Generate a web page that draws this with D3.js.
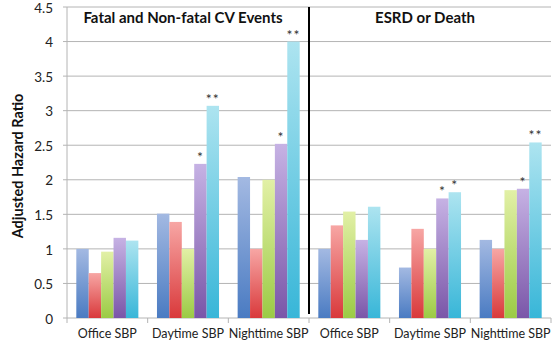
<!DOCTYPE html>
<html>
<head>
<meta charset="utf-8">
<script src="https://cdn.jsdelivr.net/npm/d3@7"></script>
<style>
  body { margin: 0; background: #fff; }
  text { font-family: Lato, "Open Sans", sans-serif; }
</style>
</head>
<body>
<div id="chart"></div>
<script>
// Data
const categories = ["Office SBP", "Daytime SBP", "Nighttime SBP", "Office SBP ", "Daytime SBP ", "Nighttime SBP "];
const seriesNames = ["s1", "s2", "s3", "s4", "s5"];
const values = [
    [1.00, 0.65, 0.96, 1.16, 1.12],
    [1.51, 1.39, 1.00, 2.23, 3.07],
    [2.04, 1.00, 2.00, 2.52, 4.00],
    [1.00, 1.34, 1.54, 1.13, 1.61],
    [0.73, 1.29, 1.00, 1.73, 1.82],
    [1.13, 1.00, 1.85, 1.87, 2.54]
];
const stars = [
    ["", "", "", "", ""],
    ["", "", "", "*", "**"],
    ["", "", "", "*", "**"],
    ["", "", "", "", ""],
    ["", "", "", "*", "*"],
    ["", "", "", "*", "**"]
];
const panelTitles = ["Fatal and Non-fatal CV Events", "ESRD or Death"];
const yTicks = [0, 0.5, 1, 1.5, 2, 2.5, 3, 3.5, 4, 4.5];

// gradient stops: light top, dark bottom
const colors = [
    ["#a3b9e2", "#4a7bc2"],
    ["#f7a6a4", "#d9393b"],
    ["#e2f0a6", "#9bcb45"],
    ["#c6b2e4", "#7a56a8"],
    ["#ade4f0", "#38b6d8"]
];

const margin = { top: 7, right: 2, bottom: 25, left: 67 };
const W = 553, H = 343;
const width = W - margin.left - margin.right;
const height = H - margin.top - margin.bottom;

const root = d3.select("#chart").append("svg")
    .attr("width", W)
    .attr("height", H);

const defs = root.append("defs");
colors.forEach((c, i) => {
    const g = defs.append("linearGradient")
        .attr("id", "grad" + i)
        .attr("x1", 0).attr("y1", 0).attr("x2", 0).attr("y2", 1);
    g.append("stop").attr("offset", "0%").attr("stop-color", c[0]);
    g.append("stop").attr("offset", "100%").attr("stop-color", c[1]);
});

const svg = root.append("g")
    .attr("transform", `translate(${margin.left},${margin.top})`);

// Scales
const x0 = d3.scaleBand().domain(categories).range([0, width]);
const step = x0.step();
const barW = step / 6.5;
const x1 = d3.scaleBand().domain(seriesNames)
    .range([barW * 0.75, step - barW * 0.75]);

const y = d3.scaleLinear().domain([0, 4.5]).range([height, 0]);

// Gridlines
svg.selectAll(".grid")
    .data(yTicks)
    .enter()
    .append("line")
    .attr("x1", -4)
    .attr("x2", width)
    .attr("y1", d => y(d))
    .attr("y2", d => y(d))
    .style("stroke", "#b4b4b4")
    .style("stroke-width", 1);

// Y axis line and labels
svg.append("line")
    .attr("x1", 0).attr("x2", 0)
    .attr("y1", 0).attr("y2", height)
    .style("stroke", "#b4b4b4");

svg.selectAll(".ylab")
    .data(yTicks)
    .enter()
    .append("text")
    .attr("x", -14)
    .attr("y", d => y(d))
    .attr("dy", "0.42em")
    .style("text-anchor", "end")
    .style("font-size", "13.5px")
    .style("fill", "#222")
    .text(d => d);

// Category ticks
svg.selectAll(".xtick")
    .data(d3.range(categories.length + 1))
    .enter()
    .append("line")
    .attr("x1", d => d * step)
    .attr("x2", d => d * step)
    .attr("y1", height)
    .attr("y2", height + 5)
    .style("stroke", "#b4b4b4");

svg.selectAll(".xlab")
    .data(categories)
    .enter()
    .append("text")
    .attr("x", d => x0(d) + step / 2)
    .attr("y", height + 20)
    .style("text-anchor", "middle")
    .style("font-size", "12.5px")
    .style("fill", "#222")
    .text(d => d.trim());

// Bars
const groups = svg.selectAll(".group")
    .data(values)
    .enter()
    .append("g")
    .attr("transform", (d, i) => `translate(${x0(categories[i])},0)`);

groups.selectAll("rect")
    .data(d => d)
    .enter()
    .append("rect")
    .attr("x", (d, j) => x1(seriesNames[j]))
    .attr("width", x1.bandwidth())
    .attr("y", d => y(d))
    .attr("height", d => height - y(d))
    .style("fill", (d, j) => `url(#grad${j})`);

// Significance marks
groups.each(function (d, i) {
    d3.select(this).selectAll(".star")
        .data(d)
        .enter()
        .append("text")
        .attr("x", (v, j) => x1(seriesNames[j]) + x1.bandwidth() / 2)
        .attr("y", v => y(v) - 2)
        .style("text-anchor", "middle")
        .style("font-size", "14px")
        .style("letter-spacing", "1px")
        .style("fill", "#333")
        .text((v, j) => stars[i][j]);
});

// Panel divider
svg.append("line")
    .attr("x1", 3 * step).attr("x2", 3 * step)
    .attr("y1", 0).attr("y2", height - 4)
    .style("stroke", "#000")
    .style("stroke-width", 2);

// Panel titles
svg.selectAll(".ptitle")
    .data(panelTitles)
    .enter()
    .append("text")
    .attr("x", (d, i) => i === 0 ? 116 : 358)
    .attr("y", 16)
    .style("text-anchor", "middle")
    .style("font-size", "15px")
    .style("font-weight", "bold")
    .style("fill", "#111")
    .text(d => d);

// Y axis title
root.append("text")
    .attr("transform", "rotate(-90)")
    .attr("x", -166)
    .attr("y", 23)
    .style("text-anchor", "middle")
    .style("font-size", "14.5px")
    .style("font-weight", "bold")
    .style("fill", "#111")
    .text("Adjusted Hazard Ratio");
</script>
</body>
</html>
